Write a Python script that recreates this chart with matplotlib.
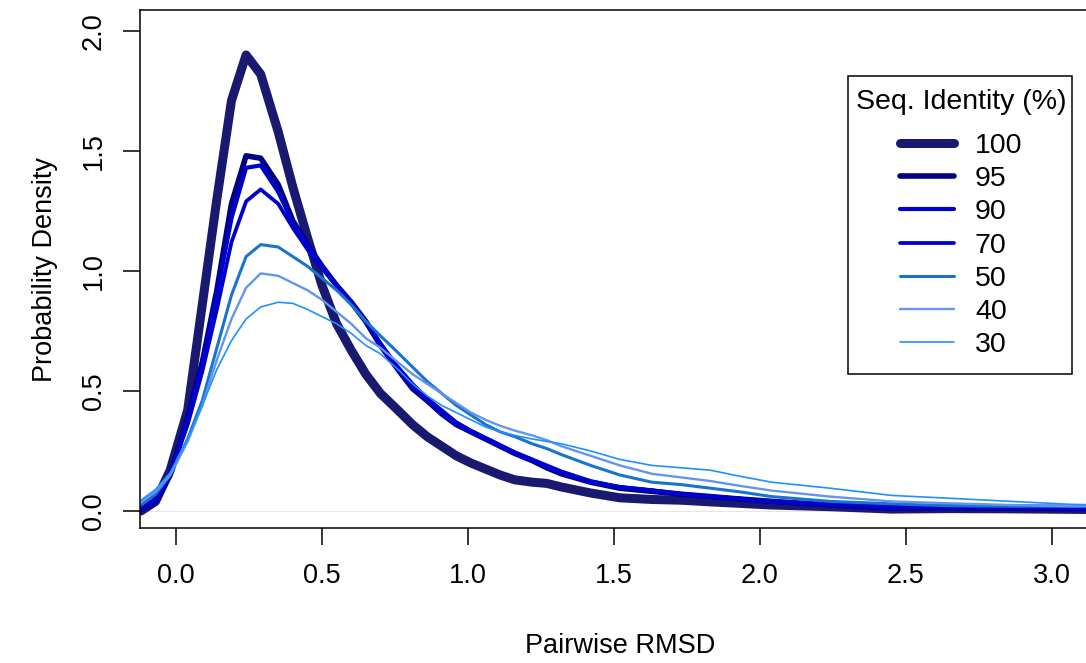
import matplotlib
matplotlib.use('Agg')
import matplotlib.pyplot as plt
from matplotlib.patches import Rectangle

plt.rcParams['font.family'] = ['Liberation Sans', 'DejaVu Sans']

# shared RMSD grid (density evaluation points)
rmsd = [-0.12, -0.07, -0.02, 0.04, 0.09, 0.14, 0.19, 0.24, 0.29, 0.35,
        0.40, 0.45, 0.50, 0.55, 0.60, 0.65, 0.70, 0.76, 0.81, 0.86,
        0.91, 0.96, 1.01, 1.06, 1.11, 1.16, 1.22, 1.27, 1.32, 1.42,
        1.52, 1.63, 1.73, 1.83, 1.93, 2.04, 2.24, 2.45, 2.65, 2.86,
        3.06, 3.16]

dens_100 = [0.00, 0.04, 0.17, 0.42, 0.86, 1.30, 1.71, 1.90, 1.82, 1.58,
            1.35, 1.14, 0.94, 0.78, 0.67, 0.57, 0.49, 0.42, 0.36, 0.31,
            0.27, 0.23, 0.20, 0.175, 0.15, 0.13, 0.12, 0.115, 0.10, 0.075,
            0.055, 0.048, 0.045, 0.038, 0.032, 0.025, 0.018, 0.008, 0.010, 0.009,
            0.007, 0.006]
dens_95 = [0.005, 0.04, 0.15, 0.39, 0.62, 0.92, 1.28, 1.48, 1.47, 1.36,
           1.21, 1.11, 1.02, 0.94, 0.87, 0.79, 0.69, 0.59, 0.51, 0.46,
           0.405, 0.36, 0.33, 0.30, 0.27, 0.24, 0.21, 0.18, 0.155, 0.12,
           0.095, 0.082, 0.07, 0.06, 0.05, 0.04, 0.025, 0.012, 0.014, 0.012,
           0.010, 0.010]
dens_90 = [0.005, 0.04, 0.15, 0.38, 0.61, 0.90, 1.22, 1.43, 1.44, 1.33,
           1.20, 1.11, 1.02, 0.94, 0.87, 0.79, 0.69, 0.59, 0.52, 0.46,
           0.41, 0.36, 0.33, 0.30, 0.27, 0.24, 0.21, 0.185, 0.16, 0.12,
           0.10, 0.085, 0.07, 0.06, 0.05, 0.04, 0.025, 0.013, 0.014, 0.012,
           0.010, 0.010]
dens_70 = [0.01, 0.045, 0.15, 0.36, 0.58, 0.84, 1.12, 1.29, 1.34, 1.28,
           1.18, 1.09, 1.01, 0.94, 0.87, 0.79, 0.70, 0.60, 0.53, 0.47,
           0.42, 0.37, 0.335, 0.305, 0.275, 0.245, 0.215, 0.19, 0.165, 0.125,
           0.10, 0.087, 0.072, 0.062, 0.052, 0.042, 0.027, 0.015, 0.015, 0.013,
           0.011, 0.010]
dens_50 = [0.025, 0.07, 0.15, 0.30, 0.46, 0.68, 0.90, 1.06, 1.11, 1.10,
           1.06, 1.02, 0.97, 0.92, 0.86, 0.79, 0.73, 0.66, 0.60, 0.54,
           0.49, 0.44, 0.40, 0.36, 0.33, 0.31, 0.28, 0.26, 0.235, 0.19,
           0.15, 0.12, 0.11, 0.095, 0.08, 0.06, 0.04, 0.03, 0.022, 0.02,
           0.02, 0.02]
dens_40 = [0.04, 0.08, 0.15, 0.29, 0.44, 0.63, 0.80, 0.93, 0.99, 0.98,
           0.95, 0.92, 0.88, 0.83, 0.78, 0.72, 0.68, 0.62, 0.57, 0.53,
           0.49, 0.45, 0.41, 0.38, 0.355, 0.335, 0.315, 0.295, 0.27, 0.23,
           0.19, 0.155, 0.14, 0.125, 0.105, 0.085, 0.06, 0.04, 0.032, 0.025,
           0.02, 0.02]
dens_30 = [0.045, 0.09, 0.16, 0.30, 0.44, 0.59, 0.71, 0.80, 0.85, 0.87,
           0.865, 0.84, 0.81, 0.78, 0.74, 0.69, 0.655, 0.59, 0.53, 0.48,
           0.44, 0.41, 0.38, 0.35, 0.33, 0.315, 0.30, 0.29, 0.28, 0.25,
           0.215, 0.19, 0.18, 0.17, 0.145, 0.12, 0.095, 0.065, 0.053, 0.04,
           0.028, 0.025]

identity = ['100', '95', '90', '70', '50', '40', '30']
series = [dens_100, dens_95, dens_90, dens_70, dens_50, dens_40, dens_30]
colors = ['#191970', '#000080', '#0000CD', '#0000CD', '#1874CD', '#6495ED', '#1E90FF']
widths = [6.5, 4.0, 3.0, 2.7, 2.2, 1.7, 1.2]

W, H = 1086, 663
fig = plt.figure(figsize=(W / 100, H / 100), dpi=100)
# axes box in pixels: left 140, top 10, bottom 528, right past the image edge
left, top, bottom, right = 140, 10, 528, 1100
ax = fig.add_axes([left / W, 1 - bottom / H, (right - left) / W, (bottom - top) / H])

ax.axhline(0, color='#e6e6e6', lw=0.8, zorder=0)
for y, c, lw, lab in zip(series, colors, widths, identity):
    ax.plot(rmsd, y, color=c, lw=lw, label=lab,
            solid_joinstyle='round', solid_capstyle='round')

ax.set_xlim(-36 / 292, (right - 176) / 292)
ax.set_ylim(-17 / 240, 501 / 240)
ax.set_xticks([0, 0.5, 1.0, 1.5, 2.0, 2.5, 3.0])
ax.set_xticklabels(['0.0', '0.5', '1.0', '1.5', '2.0', '2.5', '3.0'])
ax.set_yticks([0, 0.5, 1.0, 1.5, 2.0])
ax.set_yticklabels(['0.0', '0.5', '1.0', '1.5', '2.0'], rotation=90, va='center')

for s in ax.spines.values():
    s.set_linewidth(1.1)
ax.tick_params(length=12, width=1.1, labelsize=19.5, color='black')
ax.tick_params(axis='x', pad=13)
ax.tick_params(axis='y', pad=12)

ax.set_xlabel('Pairwise RMSD', fontsize=19.5, labelpad=32)
ax.set_ylabel('Probability Density', fontsize=19.5, labelpad=16)

leg = ax.legend(title='Seq. Identity (%)', fontsize=20.5, title_fontsize=20.5,
                loc='upper center', bbox_to_anchor=(961 / W, 1 - 89 / H),
                bbox_transform=fig.transFigure, frameon=False, alignment='center',
                handlelength=1.9, handletextpad=0.75, labelspacing=0.25,
                borderpad=0, borderaxespad=0)
# extra gap between the title and the entries
leg._legend_box.sep = 0.25 * 20.5 + 8
# R-style square legend box
fig.add_artist(Rectangle((848 / W, 1 - 374 / H), 224 / W, 298 / H,
                         transform=fig.transFigure, fill=False,
                         edgecolor='black', lw=1.1))

fig.savefig('out.png', dpi=100)
